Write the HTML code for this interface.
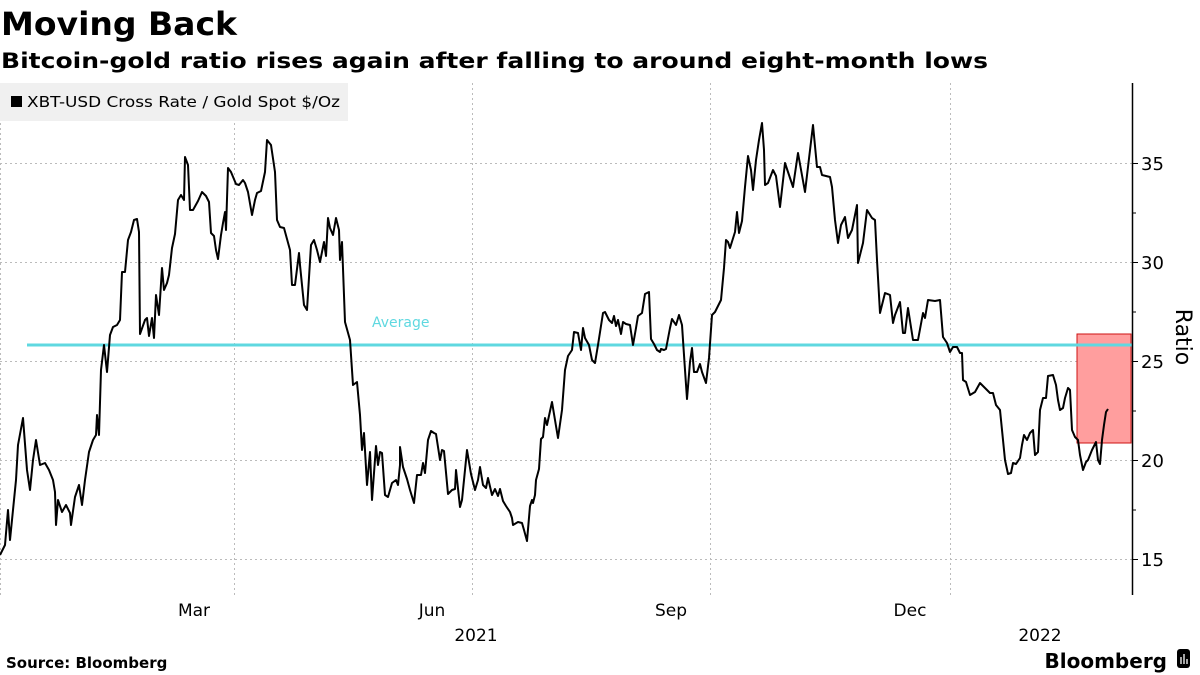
<!DOCTYPE html>
<html><head><meta charset="utf-8"><style>
body{margin:0;background:#fff;width:1200px;height:675px;overflow:hidden;font-family:"DejaVu Sans","Liberation Sans",sans-serif}
svg{position:absolute;left:0;top:0}
</style></head><body>
<svg width="1200" height="675" viewBox="0 0 1200 675" xmlns="http://www.w3.org/2000/svg">
<text x="1" y="35" font-family="DejaVu Sans, sans-serif" font-weight="bold" font-size="32" textLength="236" lengthAdjust="spacingAndGlyphs">Moving Back</text>
<text x="1" y="68" font-family="DejaVu Sans, sans-serif" font-weight="bold" font-size="21" textLength="987" lengthAdjust="spacingAndGlyphs">Bitcoin-gold ratio rises again after falling to around eight-month lows</text>
<g stroke="#bbb" stroke-dasharray="2,3" stroke-width="1">
<line x1="0" y1="163.5" x2="1132" y2="163.5"/><line x1="0" y1="262.5" x2="1132" y2="262.5"/>
<line x1="0" y1="361.5" x2="1132" y2="361.5"/><line x1="0" y1="460.5" x2="1132" y2="460.5"/>
<line x1="0" y1="559.5" x2="1132" y2="559.5"/>
<line x1="0.5" y1="83" x2="0.5" y2="595"/><line x1="234.5" y1="83" x2="234.5" y2="595"/>
<line x1="472.5" y1="83" x2="472.5" y2="595"/><line x1="710.5" y1="83" x2="710.5" y2="595"/>
<line x1="950.5" y1="83" x2="950.5" y2="595"/>
</g>
<rect x="0" y="83" width="348" height="38" fill="#f0f0f0"/>
<rect x="11" y="96" width="11" height="11" fill="#000"/>
<text x="27" y="107" font-family="DejaVu Sans, sans-serif" font-size="15" textLength="313" lengthAdjust="spacingAndGlyphs">XBT-USD Cross Rate / Gold Spot $/Oz</text>
<rect x="1077" y="334" width="54" height="109" fill="#ff9e9e" stroke="#cc1111" stroke-width="1"/>
<line x1="27" y1="345" x2="1132" y2="345" stroke="#5fd8e0" stroke-width="3"/>
<text x="372" y="327" font-family="DejaVu Sans, sans-serif" font-size="14" fill="#5fd8e0">Average</text>
<polyline fill="none" stroke="#000" stroke-width="2" stroke-linejoin="round" points="0,555 5,545 8,510 10,540 16,480 18,445 23,418 27,470 30,490 33,460 36,440 40,465 45,463 49,470 53,480 55,492 56,525 58,500 62,512 66,505 70,513 71,525 75,497 79,485 82,505 85,480 89,452 93,440 96,435 97,415 99,435 101,370 104,345 107,372 110,335 113,327 117,325 120,320 122,272 125,272 128,240 131,232 134,220 137,219 139,232 140,334 145,320 147,318 149,336 152,318 154,338 156,295 159,315 162,268 164,290 167,283 169,275 172,248 175,234 178,200 181,195 184,200 185,157 188,165 190,210 193,210 198,201 202,192 206,196 209,202 211,233 214,236 216,250 218,259 221,235 223,223 225,212 226,230 228,168 231,172 236,184 239,185 243,180 245,183 248,192 252,215 255,200 257,193 261,191 265,172 267,140 271,145 275,172 277,220 280,227 284,228 290,250 292,285 295,285 299,253 300,265 304,305 307,310 311,245 314,240 317,250 320,262 324,242 326,256 328,218 330,228 333,235 336,218 339,230 340,260 342,242 345,322 350,340 353,385 357,382 360,415 362,450 364,433 367,485 370,452 372,500 376,446 378,465 380,452 382,453 385,495 388,497 392,483 396,480 398,485 400,465 400,447 403,467 407,479 410,490 414,503 417,475 421,475 423,463 425,473 428,440 431,431 434,433 436,434 440,460 442,450 444,451 448,494 452,490 455,489 456,470 460,507 462,500 467,450 471,474 475,490 478,480 480,467 483,485 486,488 488,478 492,495 495,489 498,496 500,489 503,501 506,506 510,512 512,518 513,525 518,522 522,523 524,530 527,541 530,506 532,500 533,503 535,495 536,480 539,469 541,439 543,437 545,418 547,425 552,402 555,420 558,438 562,410 565,370 568,356 572,350 574,332 578,333 581,350 583,328 585,338 589,345 592,360 595,363 598,345 603,313 605,312 609,320 612,323 614,316 616,326 618,320 621,334 623,322 626,324 630,325 633,345 636,328 638,316 642,313 645,294 649,292 651,339 654,344 657,350 660,352 661,349 664,350 666,349 670,328 672,319 676,325 679,315 682,325 685,370 687,399 690,362 692,348 694,372 697,372 700,364 702,372 706,383 709,358 712,315 715,312 721,300 724,268 726,240 728,242 730,248 735,232 737,212 739,233 742,221 745,187 748,156 751,170 753,190 756,160 759,140 762,123 764,150 765,185 768,183 773,170 776,176 780,207 785,163 793,187 798,153 805,192 808,167 813,125 817,167 820,167 822,175 830,177 832,187 835,220 838,243 841,225 845,217 848,238 852,230 855,215 857,205 858,263 863,243 867,210 872,218 875,220 877,260 880,313 885,293 890,295 893,323 895,315 900,302 903,333 905,333 908,308 913,340 918,340 923,313 925,318 928,300 935,301 940,300 943,337 947,343 950,352 953,347 957,347 960,353 962,353 963,380 966,382 970,395 975,392 980,383 985,388 990,393 993,393 996,405 1000,410 1003,440 1005,460 1008,474 1011,473 1013,463 1016,464 1020,458 1022,445 1024,435 1027,440 1030,433 1033,430 1035,455 1038,452 1040,410 1043,398 1046,398 1048,376 1053,375 1056,385 1058,400 1060,410 1063,408 1065,398 1068,388 1070,390 1072,430 1075,437 1078,440 1080,455 1083,470 1086,462 1088,460 1092,450 1096,442 1098,460 1100,464 1102,440 1104,425 1106,412 1108,409"/>
<line x1="1132.5" y1="83" x2="1132.5" y2="595" stroke="#000" stroke-width="1.5"/>
<g stroke="#000" stroke-width="1">
<line x1="1132" y1="163.5" x2="1138" y2="163.5"/><line x1="1132" y1="213" x2="1136" y2="213"/>
<line x1="1132" y1="262.5" x2="1138" y2="262.5"/><line x1="1132" y1="312" x2="1136" y2="312"/>
<line x1="1132" y1="361.5" x2="1138" y2="361.5"/><line x1="1132" y1="411" x2="1136" y2="411"/>
<line x1="1132" y1="460.5" x2="1138" y2="460.5"/><line x1="1132" y1="510" x2="1136" y2="510"/>
<line x1="1132" y1="559.5" x2="1138" y2="559.5"/>
</g>
<g font-family="DejaVu Sans, sans-serif" font-size="18" fill="#000">
<text x="1141" y="170">35</text><text x="1141" y="269">30</text><text x="1141" y="368">25</text>
<text x="1141" y="467">20</text><text x="1141" y="566">15</text>
<text transform="translate(1176,337) rotate(90)" font-size="22" text-anchor="middle">Ratio</text>
</g>
<g font-family="DejaVu Sans, sans-serif" font-size="17" fill="#000" text-anchor="middle">
<text x="194" y="616">Mar</text><text x="432" y="616">Jun</text><text x="671" y="616">Sep</text><text x="910" y="616">Dec</text>
<text x="476" y="641">2021</text><text x="1040" y="641">2022</text>
</g>
<text x="6" y="668" font-family="DejaVu Sans, sans-serif" font-weight="bold" font-size="15">Source: Bloomberg</text>
<text x="1167" y="668" font-family="DejaVu Sans, sans-serif" font-weight="bold" font-size="20" text-anchor="end">Bloomberg</text>
<rect x="1177" y="649" width="13" height="19" rx="3" fill="#000"/>
<g stroke="#fff" stroke-width="1.3"><line x1="1181" y1="664" x2="1181" y2="657"/><line x1="1184" y1="664" x2="1184" y2="654"/><line x1="1187" y1="664" x2="1187" y2="659"/></g>
</svg>
</body></html>
